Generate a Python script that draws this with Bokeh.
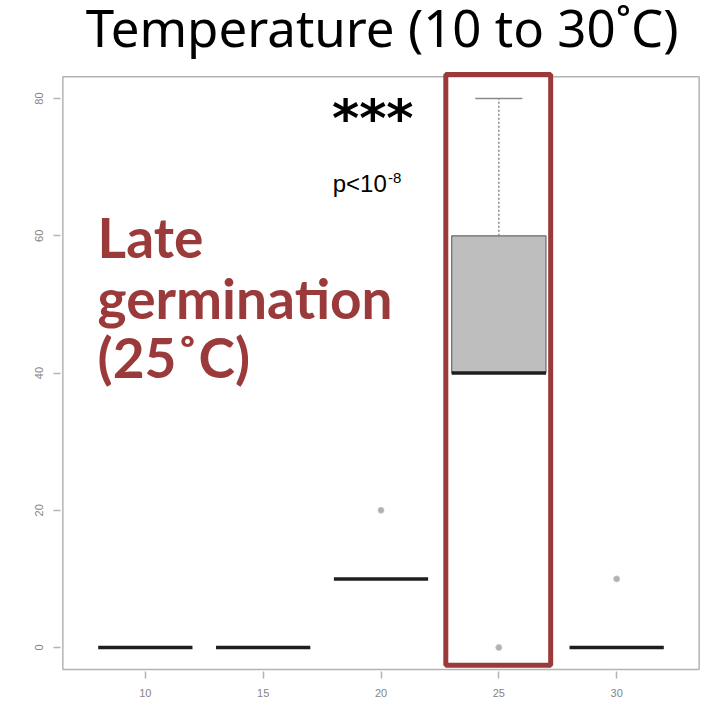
from bokeh.plotting import figure
from bokeh.models import Range1d, Label, FixedTicker
from bokeh.embed import file_html
from bokeh.resources import INLINE

# ---- data ----
title_text = "Temperature (10 to 30˚C)"
temps = ["10", "15", "20", "25", "30"]
positions = [1, 2, 3, 4, 5]
q1 = [0, 0, 10, 40, 0]
median = [0, 0, 10, 40, 0]
q3 = [0, 0, 10, 60, 0]
upper_whisker = [0, 0, 10, 80, 0]
lower_whisker = [0, 0, 10, 40, 0]
outlier_pos = [3, 4, 5]
outlier_val = [20, 0, 10]
y_ticks = [0, 20, 40, 60, 80]
highlight_pos = 4
late_lines = ["Late", "germination", "(25˚C)"]
late_y = [59.9, 50.9, 42.4]

# plotting box (R style limits)
box_x = (0.3, 5.7)
box_y = (-3.2, 83.2)

RED = "#9b3a3a"
FRAME = "#b4b4b4"
BOXW = 0.8

p = figure(width=704, height=716, output_backend="svg", toolbar_location=None,
           x_range=Range1d(0.28, 5.72), y_range=Range1d(-3.5, 94.3),
           min_border_left=60, min_border_right=3, min_border_top=0, min_border_bottom=45)

p.xgrid.visible = False
p.ygrid.visible = False
p.background_fill_color = "white"
p.border_fill_color = "white"
p.outline_line_color = None

for ax in (p.xaxis[0], p.yaxis[0]):
    ax.axis_line_color = None
    ax.major_tick_line_color = FRAME
    ax.major_tick_line_width = 1.5
    ax.major_tick_out = 7
    ax.major_tick_in = 0
    ax.minor_tick_line_color = None
    ax.major_label_text_color = "#858585"
    ax.major_label_text_font = "Liberation Sans"
    ax.major_label_text_font_size = "11px"

p.xaxis.ticker = FixedTicker(ticks=positions)
p.xaxis.major_label_overrides = {pos: t for pos, t in zip(positions, temps)}
p.xaxis.major_label_standoff = 10
p.yaxis.ticker = FixedTicker(ticks=y_ticks)
p.yaxis.major_label_orientation = "vertical"
p.yaxis.major_label_standoff = 10

# plot frame (R box)
p.quad(left=[box_x[0]], right=[box_x[1]], bottom=[box_y[0]], top=[box_y[1]],
       fill_color=None, line_color=FRAME, line_width=1.5)

# boxes (only where q3 > q1)
bx = [(x, a, b) for x, a, b in zip(positions, q1, q3) if b > a]
p.quad(left=[x - BOXW / 2 for x, a, b in bx], right=[x + BOXW / 2 for x, a, b in bx],
       bottom=[a for x, a, b in bx], top=[b for x, a, b in bx],
       fill_color="#bebebe", line_color="#6a6a6a", line_width=1.2)

# upper whiskers
wk = [(x, b, w) for x, b, w in zip(positions, q3, upper_whisker) if w > b]
p.segment(x0=[x for x, b, w in wk], x1=[x for x, b, w in wk],
          y0=[b for x, b, w in wk], y1=[w for x, b, w in wk],
          line_color="#8a8a8a", line_width=1.5, line_dash="2 2")
p.segment(x0=[x - BOXW / 4 for x, b, w in wk], x1=[x + BOXW / 4 for x, b, w in wk],
          y0=[w for x, b, w in wk], y1=[w for x, b, w in wk],
          line_color="#8a8a8a", line_width=1.5)

# medians
p.segment(x0=[x - BOXW / 2 for x in positions], x1=[x + BOXW / 2 for x in positions],
          y0=median, y1=median, line_color="#1e1e1e", line_width=3.5)

# outliers
p.scatter(x=outlier_pos, y=outlier_val, size=6, marker="circle",
          fill_color="#b0b0b0", line_color="#c8c8c8")

# highlight rectangle
p.quad(left=[highlight_pos - 0.45], right=[highlight_pos + 0.44], bottom=[-2.6], top=[83.5],
       fill_color=None, line_color=RED, line_width=5)

# title
p.add_layout(Label(x=3.01, y=90.5, text=title_text, text_font="Noto Sans",
                   text_font_size="51px", text_color="black",
                   text_baseline="alphabetic", text_align="center"))

# annotations
for t, yy in zip(late_lines, late_y):
    p.add_layout(Label(x=0.595, y=yy, text=t, text_font="Lato",
                       text_font_size="55px", text_font_style="bold", text_color=RED,
                       text_baseline="alphabetic", text_align="left"))

p.add_layout(Label(x=2.93, y=77.2, text="***", text_font="DejaVu Sans",
                   text_font_size="52px", text_font_style="bold", text_color="black",
                   text_baseline="middle", text_align="center"))
p.add_layout(Label(x=2.59, y=67.6, text="p<10", text_font="Liberation Sans",
                   text_font_size="24px", text_color="black",
                   text_baseline="alphabetic", text_align="left"))
p.add_layout(Label(x=3.06, y=68.5, text="-8", text_font="Liberation Sans",
                   text_font_size="15px", text_color="black",
                   text_baseline="alphabetic", text_align="left"))

open("out.html", "w").write(file_html(p, INLINE))
